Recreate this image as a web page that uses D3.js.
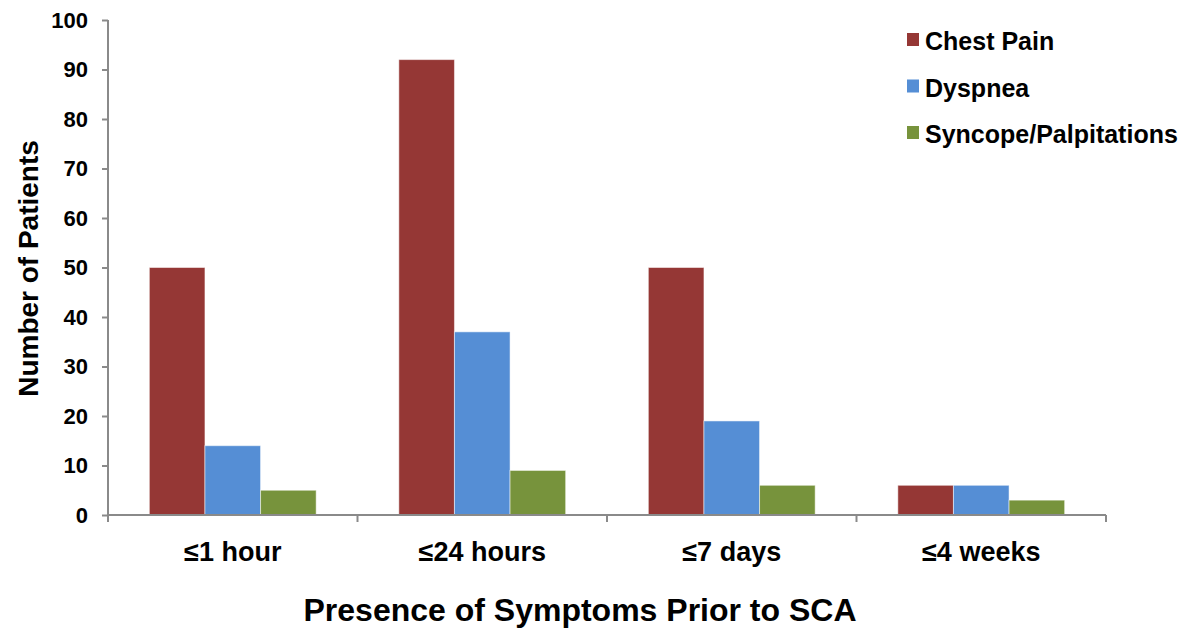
<!DOCTYPE html>
<html>
<head>
<meta charset="utf-8">
<script src="https://cdn.jsdelivr.net/npm/d3@7"></script>
<style>
  html, body { margin: 0; padding: 0; background: #fff; }
  text { font-family: "Liberation Sans", Arial, sans-serif; font-weight: bold; fill: #000; }
</style>
</head>
<body>
<svg id="chart" width="1184" height="629"></svg>
<script>
const categories = ["≤1 hour", "≤24 hours", "≤7 days", "≤4 weeks"];
const seriesNames = ["Chest Pain", "Dyspnea", "Syncope/Palpitations"];
const chestPain = [50, 92, 50, 6];
const dyspnea = [14, 37, 19, 6];
const syncope = [5, 9, 6, 3];
const seriesColors = ["#953735", "#558ED5", "#77933C"];
const yTicks = [0, 10, 20, 30, 40, 50, 60, 70, 80, 90, 100];

(function () {
const seriesValues = [chestPain, dyspnea, syncope];
const svg = d3.select("#chart");
const mLeft = 108, mRight = 1106, mTop = 20, mBottom = 515;
const axisColor = "#8a8a8a";

const x0 = d3.scaleBand().domain(categories).range([mLeft, mRight]).padding(0);
const bw = x0.bandwidth();
const pad = bw * 0.1657;
const x1 = d3.scaleBand().domain(seriesNames).range([pad, bw - pad]).padding(0);
const y = d3.scaleLinear().domain([0, 100]).range([mBottom, mTop]);

// bars
const groups = svg.append("g").selectAll("g")
  .data(categories).join("g")
  .attr("transform", c => `translate(${x0(c)},0)`);
groups.selectAll("rect")
  .data((c, i) => seriesNames.map((s, j) => ({ s, j, v: seriesValues[j][i] })))
  .join("rect")
  .attr("x", d => x1(d.s))
  .attr("width", x1.bandwidth())
  .attr("y", d => y(d.v))
  .attr("height", d => y(0) - y(d.v))
  .attr("fill", d => seriesColors[d.j])
  .attr("stroke", "rgba(255,255,255,0.5)")
  .attr("stroke-width", 1);

// y axis
const yAxis = svg.append("g").attr("transform", `translate(${mLeft},0)`)
  .call(d3.axisLeft(y).tickValues(yTicks).tickSize(6).tickPadding(14).tickFormat(d3.format("d")));
yAxis.select(".domain").attr("stroke", axisColor).attr("stroke-width", 2)
  .attr("d", `M0,${mTop}V${mBottom}`);
yAxis.selectAll(".tick line").attr("stroke", axisColor).attr("stroke-width", 2);
yAxis.selectAll(".tick text").style("font-size", "22px").style("font-family", "Liberation Sans, Arial, sans-serif").style("font-weight", "bold").attr("fill", "#000");

// x axis
const xAxis = svg.append("g").attr("transform", `translate(0,${mBottom})`)
  .call(d3.axisBottom(x0).tickSize(0).tickPadding(0).tickFormat(""));
xAxis.select(".domain").attr("stroke", axisColor).attr("stroke-width", 2)
  .attr("d", `M${mLeft},0H${mRight}`);
xAxis.selectAll(".tick").remove();
const boundaries = categories.map(c => x0(c)).concat([x0(categories[categories.length - 1]) + bw]);
xAxis.selectAll("line.b").data(boundaries).join("line")
  .attr("class", "b")
  .attr("x1", d => d).attr("x2", d => d)
  .attr("y1", 0).attr("y2", 7)
  .attr("stroke", axisColor).attr("stroke-width", 2);

// category labels
svg.append("g").selectAll("text").data(categories).join("text")
  .attr("x", c => x0(c) + bw / 2)
  .attr("y", 561)
  .attr("text-anchor", "middle")
  .style("font-size", "27px")
  .text(c => c);

// axis titles
svg.append("text")
  .attr("x", 580).attr("y", 621)
  .attr("text-anchor", "middle")
  .style("font-size", "32px")
  .text("Presence of Symptoms Prior to SCA");

svg.append("text")
  .attr("transform", `translate(38,${(140 + 397) / 2}) rotate(-90)`)
  .attr("text-anchor", "middle")
  .style("font-size", "28px")
  .text("Number of Patients");

// legend
const legend = svg.append("g").selectAll("g").data(seriesNames).join("g")
  .attr("transform", (d, i) => `translate(907,${50 + i * 46.5})`);
legend.append("rect")
  .attr("x", 0).attr("y", -17).attr("width", 12).attr("height", 13)
  .attr("fill", (d, i) => seriesColors[i]);
legend.append("text")
  .attr("x", 18).attr("y", 0)
  .style("font-size", "25px")
  .text(d => d);
})();
</script>
</body>
</html>
